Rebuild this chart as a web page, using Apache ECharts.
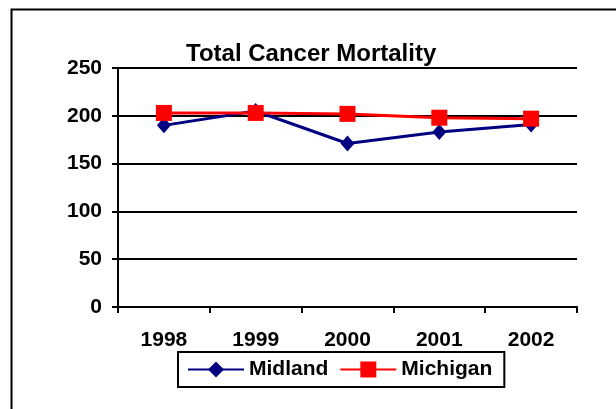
<!DOCTYPE html>
<html>
<head>
<meta charset="utf-8">
<script src="https://cdn.jsdelivr.net/npm/echarts@6/dist/echarts.min.js"></script>
<style>
html,body{margin:0;padding:0;background:#fff;}
#c{width:616px;height:409px;}
</style>
</head>
<body>
<div id="c"></div>
<script>
var years = ['1998', '1999', '2000', '2001', '2002'];
var midland = [190, 205, 171, 183, 191];
var michigan = [203, 203, 202, 198, 197];
var titleText = 'Total Cancer Mortality';

var FONT = '"Liberation Sans", Arial, sans-serif';
var chart = echarts.init(document.getElementById('c'), null, {renderer: 'canvas'});
chart.setOption({
  backgroundColor: '#ffffff',
  animation: false,
  graphic: [{
    type: 'rect', left: 9, top: 7, z: -1,
    shape: {width: 800, height: 600},
    style: {fill: 'none', stroke: '#000', lineWidth: 2}
  }],
  title: {
    text: titleText, left: 186, top: 42, padding: 0,
    textStyle: {fontFamily: FONT, fontWeight: 'bold', fontSize: 24, color: '#000'}
  },
  legend: {
    left: 178, top: 352,
    padding: [7, 12, 7, 9],
    borderColor: '#000', borderWidth: 2,
    itemWidth: 56, itemHeight: 20, itemGap: 11,
    textStyle: {fontFamily: FONT, fontWeight: 'bold', fontSize: 21, color: '#000'},
    data: ['Midland', 'Michigan']
  },
  grid: {left: 118, right: 39, top: 68, bottom: 102, containLabel: false},
  xAxis: {
    type: 'category', data: years, boundaryGap: true,
    axisLine: {lineStyle: {color: '#000', width: 2}},
    axisTick: {show: true, length: 6, lineStyle: {color: '#000', width: 2}},
    axisLabel: {margin: 23, fontFamily: FONT, fontWeight: 'bold', fontSize: 21, color: '#000'}
  },
  yAxis: {
    type: 'value', min: 0, max: 250, interval: 50,
    axisLine: {show: true, lineStyle: {color: '#000', width: 2}},
    axisTick: {show: true, length: 6, lineStyle: {color: '#000', width: 2}},
    splitLine: {show: true, lineStyle: {color: '#000', width: 2}},
    axisLabel: {margin: 16, fontFamily: FONT, fontWeight: 'bold', fontSize: 21, color: '#000'}
  },
  series: [{
    name: 'Midland', type: 'line', data: midland,
    symbol: 'diamond', symbolSize: [14, 16],
    itemStyle: {color: '#000080'},
    lineStyle: {color: '#000080', width: 3}
  }, {
    name: 'Michigan', type: 'line', data: michigan,
    symbol: 'rect', symbolSize: 16,
    itemStyle: {color: '#ff0000'},
    lineStyle: {color: '#ff0000', width: 3}
  }]
});
</script>
</body>
</html>
